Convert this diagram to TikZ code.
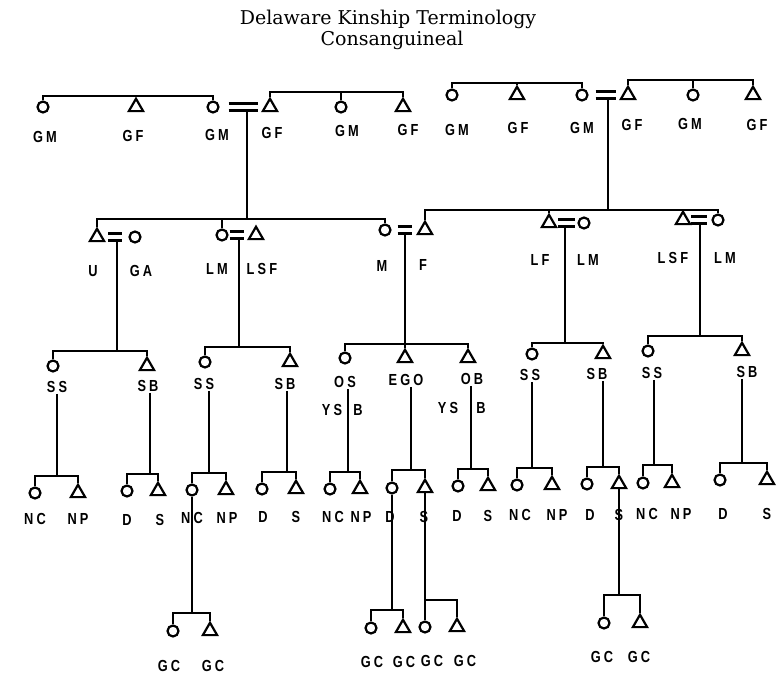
\documentclass[tikz,border=0pt]{standalone}
\usepackage{fontspec}
\newfontfamily\kinfont[FakeStretch=0.8,LetterSpace=20]{Liberation Sans Bold}
\newfontfamily\ttlfont{DejaVu Serif}
\usetikzlibrary{shapes.geometric}
\tikzset{
  fem/.style={circle,draw,line width=2.2pt,minimum size=11pt,inner sep=0pt},
  mal/.style={regular polygon,regular polygon sides=3,draw,line width=2.2pt,minimum size=16.5pt,inner sep=0pt},
  kin/.style={font=\kinfont\fontsize{16}{18}\selectfont,inner sep=1pt},
  ttl/.style={font=\ttlfont\fontsize{19}{22}\selectfont,inner sep=0pt},
  ln/.style={line width=1.6pt},
  bar/.style={line width=1.9pt},
  eq/.style={line width=2.1pt},
}
\begin{document}
\begin{tikzpicture}[x=1pt,y=-1pt]
  \useasboundingbox (0,0) rectangle (777,675);
  % 标题
  \node[ttl] (t1) at (388,19) {Delaware Kinship Terminology};
  \node[ttl] (t2) at (392,40) {Consanguineal};
  % 前三代：符号与称谓
  \foreach \n/\s/\x/\y/\w/\lx/\q in {
      g1/fem/43/107/GM/45/137, g2/mal/136/107/GF/133/136, g3/fem/213/107/GM/217/135,
      g4/mal/270/107/GF/272/133, g5/fem/341/107/GM/347/131, g6/mal/403/107/GF/408/130,
      g7/fem/452/95/GM/457/130, g8/mal/517/95/GF/518/128, g9/fem/582/95/GM/582/128,
      g10/mal/628/95/GF/632/125, g11/fem/693/95/GM/690/124, g12/mal/753/95/GF/757/125,
      u/mal/97/237/U/93/271, ga/fem/135/237/GA/141/271,
      lm1/fem/222/235/LM/217/269, lsf1/mal/256/235/LSF/262/269,
      mo/fem/385/230/M/382/266, fa/mal/425/230/F/423/265,
      lf/mal/549/223/LF/540/260, lm2/fem/584/223/LM/588/260,
      lsf2/mal/683/220/LSF/673/258, lm3/fem/718/220/LM/725/258,
      ss1/fem/53/366/SS/57/387, sb1/mal/147/366/SB/148/386,
      ss2/fem/205/362/SS/204/384, sb2/mal/290/362/SB/285/384,
      os/fem/345/358/OS/345/382, ego/mal/405/358/EGO/406/380, ob/mal/468/358/OB/472/379,
      ss4/fem/532/354/SS/530/375, sb4/mal/603/354/SB/597/374,
      ss5/fem/648/351/SS/652/373, sb5/mal/742/351/SB/747/372} {
    \node[\s] (\n) at (\x,\y) {};
    \node[kin] (l\n) at (\lx,\q) {\w};
  }
  \node[kin] (ys1) at (332,410) {YS};
  \node[kin] (bb1) at (358,410) {B};
  \node[kin] (ys2) at (448,408) {YS};
  \node[kin] (bb2) at (481,408) {B};
  % 兄弟姐妹横线（第一代）
  \coordinate (r1) at (136,96);
  \coordinate (r2) at (341,92);
  \coordinate (r3) at (517,83);
  \coordinate (r4) at (693,80);
  \foreach \pa/\pb/\pc/\pr in {g1/g2/g3/r1, g4/g5/g6/r2, g7/g8/g9/r3, g10/g11/g12/r4} {
    \draw[bar] (\pa.north) |- (\pr) -| (\pc.north);
    \draw[bar] (\pb.north) -- (\pb.north |- \pr);
  }
  % 婚姻符号 =
  \foreach \pa/\pb/\sa/\sb in {g3/g4/9/6, g9/g10/7/6, u/ga/5/6, lm1/lsf1/1/6,
      mo/fa/6/7, lf/lm2/3/2, lsf2/lm3/2/4} {
    \draw[eq,shorten <=\sa pt,shorten >=\sb pt] ([yshift=3.5pt]\pa.east) -- ([yshift=3.5pt]\pb.west);
    \draw[eq,shorten <=\sa pt,shorten >=\sb pt] ([yshift=-3.5pt]\pa.east) -- ([yshift=-3.5pt]\pb.west);
  }
  % 下传竖线
  \foreach \nm/\x/\ya/\yb in {A/247/110.5/219, B/608/98.5/210, C/117/240.5/351, D/239/238.5/347,
      E/405/233.5/344, F/565/226.5/343, G/700/223.5/336} {
    \coordinate (w\nm) at (\x,\ya);
    \coordinate (b\nm) at (\x,\yb);
    \draw[ln] (w\nm) -- (b\nm);
  }
  \draw[bar] (u.north) |- (bA) -| (mo.north);
  \draw[bar] (lm1.north) -- (lm1.north |- bA);
  \draw[bar] (fa.north) |- (bB) -| (lm3.north);
  \draw[bar] (lf.north) -- (lf.north |- bB);
  \draw[bar] (ss1.north) |- (bC) -| (sb1.north);
  \draw[bar] (ss2.north) |- (bD) -| (sb2.north);
  \draw[bar] (os.north) |- (bE) -| (ob.north);
  \draw[bar] (ego.north) -- (ego.north |- bE);
  \draw[bar] (ss4.north) |- (bF) -| (sb4.north);
  \draw[bar] (ss5.north) |- (bG) -| (sb5.north);
  % 子女与孙辈
  \foreach \n/\y/\cx/\tx/\jx/\by/\w/\z/\px/\pz/\q in {
      a/493/35/78/57/476/NC/NP/35/78/519, b/491/127/158/150/474/D/S/127/160/520,
      c/490/192/226/209/473/NC/NP/192/227/518, d/489/262/296/287/472/D/S/263/296/517,
      e/489/330/360/348/472/NC/NP/333/361/517, f/488/392/425/411/470/D/S/390/424/517,
      g/486/458/488/471/469/D/S/457/488/516, h/485/517/552/532/468/NC/NP/520/557/515,
      i/484/587/619/603/467/D/S/590/619/515, j/483/643/672/654/465/NC/NP/647/681/514,
      k/480/720/767/742/463/D/S/723/767/514,
      l/631/173/210/192/613/GC/GC/169/213/666, m/628/371/403/392/610/GC/GC/372/404/662,
      n/627/425/457/425/600/GC/GC/432/465/661, o/623/604/640/619/595/GC/GC/602/639/657} {
    \node[fem] (\n1) at (\cx,\y) {};
    \node[mal] (\n2) at (\tx,\y) {};
    \coordinate (j\n) at (\jx,\by);
    \draw[bar] (\n1.north) |- (j\n) -| (\n2.north);
    \node[kin] (l\n1) at (\px,\q) {\w};
    \node[kin] (l\n2) at (\pz,\q) {\z};
  }
  \foreach \pa/\pb in {lss1/ja, lsb1/jb, lss2/jc, lsb2/jd, los/je, lego/jf, lob/jg,
      lss4/jh, lsb4/ji, lss5/jj, lsb5/jk}
    \draw[ln] (\pa.south -| \pb) -- (\pb);
  \foreach \pa/\pb in {c1/jl, f1/jm, f2/jn, i2/jo}
    \draw[ln] (\pa.south) -- (\pb);
\end{tikzpicture}
\end{document}
